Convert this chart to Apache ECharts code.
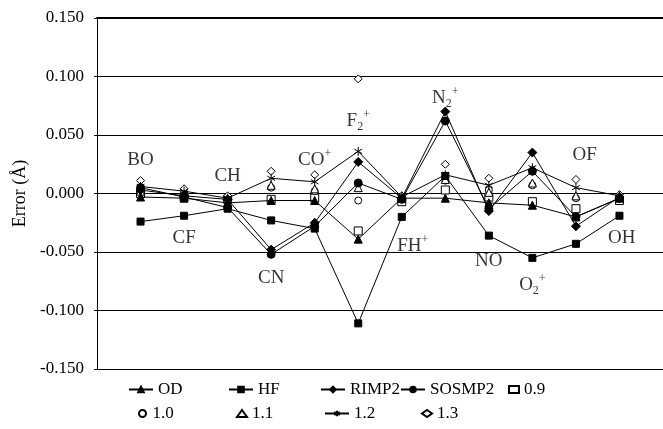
<!DOCTYPE html>
<html>
<head>
<meta charset="utf-8">
<script src="https://cdn.jsdelivr.net/npm/echarts@6/dist/echarts.min.js"></script>
<style>
html, body { margin: 0; padding: 0; background: #fff; }
#main { width: 663px; height: 429px; }
</style>
</head>
<body>
<div id="main"></div>
<script>
// molecules, in order along the x axis (index 1..12)
var molecules = ['BO', 'CF', 'CH', 'CN', 'CO+', 'F2+', 'FH+', 'N2+', 'NO', 'O2+', 'OF', 'OH'];
var yTicks = [-0.15, -0.10, -0.05, 0.00, 0.05, 0.10, 0.15];

// errors in Angstrom, one value per molecule
var odErr     = [-0.003, -0.004, -0.008, -0.006, -0.006, -0.039, -0.004, -0.004, -0.008, -0.010, -0.020, -0.004];
var hfErr     = [-0.024, -0.019, -0.013, -0.023, -0.030, -0.111, -0.020,  0.015, -0.036, -0.055, -0.043, -0.019];
var rimp2Err  = [ 0.003, -0.002, -0.005, -0.048, -0.025,  0.027, -0.004,  0.070, -0.015,  0.035, -0.028, -0.003];
var sosmp2Err = [ 0.005, -0.003, -0.012, -0.052, -0.028,  0.009, -0.005,  0.062, -0.013,  0.019, -0.020, -0.004];
var s09Err    = [ 0.000, -0.003, -0.005, -0.005, -0.004, -0.032, -0.007,  0.003, -0.003, -0.007, -0.013, -0.006];
var s10Err    = [ 0.004,  0.001, -0.003,  0.005,  0.002, -0.006, -0.003,  0.011,  0.003,  0.007, -0.004, -0.003];
var s11Err    = [ 0.002,  0.000, -0.003,  0.007,  0.004,  0.005, -0.002,  0.012,  0.001,  0.009, -0.002, -0.002];
var s12Err    = [ 0.006,  0.002, -0.004,  0.013,  0.010,  0.036, -0.003,  0.016,  0.007,  0.022,  0.005, -0.002];
var s13Err    = [ 0.011,  0.004, -0.002,  0.019,  0.016,  0.098, -0.002,  0.025,  0.013,  0.020,  0.012, -0.001];

// where each molecule name is written (x index, y value)
var labelX = [1, 2, 3, 4, 5, 6, 7.25, 8, 9, 10, 11.2, 12.05];
var labelY = [0.029, -0.038, 0.015, -0.072, 0.029, 0.062, -0.045, 0.082, -0.058, -0.078, 0.033, -0.038];

var FONT = 'Liberation Serif';
var STAR = 'path://M5,0L5,10M0.67,2.5L9.33,7.5M0.67,7.5L9.33,2.5';

function toPoints(arr) {
    return arr.map(function (v, i) { return [i + 1, v]; });
}

// "F2+" -> F with subscript 2 and superscript +
function richName(name) {
    var m = name.match(/^([A-Z]+)(\d?)(\+?)$/);
    var s = '{b|' + m[1] + '}';
    if (m[2]) s += '{sub|' + m[2] + '}';
    if (m[3]) s += '{sup|' + m[3] + '}';
    return s;
}

function lineSeries(name, data, symbol, size) {
    return {
        name: name, type: 'line', data: toPoints(data),
        symbol: symbol, symbolSize: size, symbolKeepAspect: true,
        lineStyle: { color: '#000', width: 1 },
        itemStyle: { color: '#000', borderColor: '#000', borderWidth: 1 },
        emphasis: { disabled: true }
    };
}
function openSeries(name, data, symbol, size) {
    return {
        name: name, type: 'scatter', data: toPoints(data),
        symbol: symbol, symbolSize: size,
        itemStyle: { color: '#fff', borderColor: '#000', borderWidth: 1, opacity: 1 },
        emphasis: { disabled: true }
    };
}

var annoData = molecules.map(function (m, i) { return [labelX[i], labelY[i], m]; });

var legendSpec = [
    ['OD', 128, 381, 24], ['HF', 228, 381, 24], ['RIMP2', 320, 381, 24],
    ['SOSMP2', 400, 381, 24], ['0.9', 508, 381, 10],
    ['1.0', 138, 405, 10], ['1.1', 236, 405, 10], ['1.2', 324, 405, 24], ['1.3', 421, 405, 10]
];

var myChart = echarts.init(document.getElementById('main'));
var option = {
    backgroundColor: '#fff',
    animation: false,
    grid: { left: 97, top: 18, width: 572, height: 351, show: false },
    legend: legendSpec.map(function (l) {
        return {
            data: [l[0]], left: l[1], top: l[2], padding: 0,
            itemWidth: l[3], itemHeight: 7, itemGap: 0,
            textStyle: { fontFamily: FONT, fontSize: 17, color: '#000' },
            selectedMode: false
        };
    }),
    xAxis: [{
        type: 'value', min: 0, max: 13, position: 'bottom',
        axisLine: { show: true, lineStyle: { color: '#000', width: 1 } },
        axisTick: { show: false }, axisLabel: { show: false }, splitLine: { show: false }
    }, {
        type: 'value', min: 0, max: 13, position: 'top',
        axisLine: { show: true, lineStyle: { color: '#000', width: 2 } },
        axisTick: { show: false }, axisLabel: { show: false }, splitLine: { show: false }
    }],
    yAxis: {
        type: 'value', min: yTicks[0], max: yTicks[yTicks.length - 1], interval: 0.05,
        name: 'Error (Å)', nameLocation: 'middle', nameGap: 64, nameRotate: 90,
        nameTextStyle: { fontFamily: FONT, fontSize: 18, color: '#000' },
        axisLine: { show: true, lineStyle: { color: '#000', width: 1 } },
        axisTick: { show: true, length: 3, lineStyle: { color: '#000' } },
        axisLabel: {
            margin: 13, fontFamily: FONT, fontSize: 17, color: '#000',
            formatter: function (v) { return v.toFixed(3); }
        },
        splitLine: { show: true, lineStyle: { color: '#000', width: 1 } }
    },
    series: [
        lineSeries('OD', odErr, 'triangle', 8),
        lineSeries('HF', hfErr, 'rect', 7),
        lineSeries('RIMP2', rimp2Err, 'diamond', 9),
        lineSeries('SOSMP2', sosmp2Err, 'circle', 8),
        openSeries('0.9', s09Err, 'rect', 8),
        openSeries('1.0', s10Err, 'circle', 7),
        openSeries('1.1', s11Err, 'triangle', 8),
        lineSeries('1.2', s12Err, STAR, 9),
        openSeries('1.3', s13Err, 'diamond', 8),
        {
            type: 'scatter', data: annoData, symbolSize: 0, silent: true,
            label: {
                show: true, position: 'inside',
                formatter: function (p) { return richName(p.data[2]); },
                rich: {
                    b: { fontFamily: FONT, fontSize: 19, color: '#000', lineHeight: 24 },
                    sub: { fontFamily: FONT, fontSize: 12, color: '#000', lineHeight: 12, verticalAlign: 'bottom' },
                    sup: { fontFamily: FONT, fontSize: 12, color: '#000', lineHeight: 12, verticalAlign: 'top' }
                }
            }
        }
    ]
};
myChart.setOption(option);
</script>
</body>
</html>
